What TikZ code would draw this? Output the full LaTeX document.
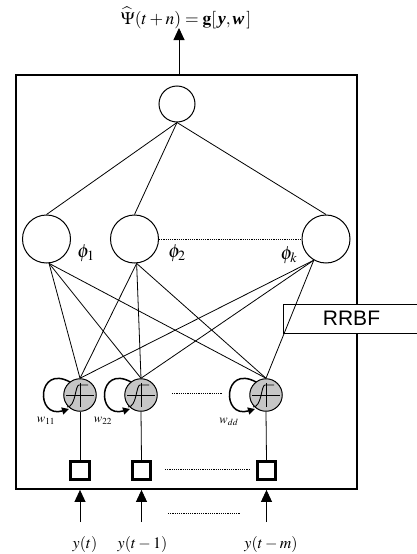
\documentclass[tikz,border=0pt]{standalone}
\usepackage{mathptmx}
\usepackage[no-math]{fontspec}
\setmainfont{Liberation Serif}
\newfontfamily\rrbffont{Liberation Sans}
\usetikzlibrary{arrows.meta,calc}
\tikzset{
 frame/.style={draw, line width=1.8pt, minimum width=341pt, minimum height=414pt, inner sep=0pt},
 rbfc/.style={circle, draw, line width=1pt, minimum size=48pt, inner sep=0pt},
 topc/.style={circle, draw, line width=1pt, minimum size=36pt, inner sep=0pt},
 sig/.style={circle, draw, line width=1pt, fill=gray!45, minimum size=32.5pt, inner sep=0pt},
 delay/.style={draw, line width=2.6pt, minimum size=18.5pt, inner sep=0pt},
 conn/.style={line width=0.8pt},
 bigarrow/.style={line width=0.9pt, -{Triangle[length=12pt,width=11pt]}},
 looparrow/.style={line width=1.5pt, -{Triangle[length=7pt,width=7pt]}},
 dotline/.style={line width=0.8pt, dash pattern=on 1.2pt off 1pt},
 lab/.style={font=\fontsize{16}{18}\selectfont, inner sep=0pt},
 outl/.style={font=\fontsize{17.5}{20}\selectfont, inner sep=0pt},
 phil/.style={font=\fontsize{19}{21}\selectfont, inner sep=0pt},
 wl/.style={font=\fontsize{12.5}{14}\selectfont, inner sep=0pt},
}
\begin{document}
\begin{tikzpicture}[x=1pt,y=-1pt]
\useasboundingbox (0,0) rectangle (416,554);
% frame
\node[frame] (box) at (186.5,282) {};
\node[draw, fill=white, line width=1pt, minimum width=137pt, minimum height=29pt, inner sep=0pt,
      font=\rrbffont\fontsize{21}{24}\selectfont] (rr) at (351.5,318.5) {RRBF};
% output
\node[outl] (f) at (186,18) {$\widehat{\Psi}(t+n)=\mathbf{g}[\,\mbox{\bfseries\itshape y},\mbox{\bfseries\itshape w}\,]$};
\coordinate (outtop) at (179,28);
\draw[bigarrow] (box.north -| outtop) -- (outtop);
% top neuron
\node[topc] (o) at (177,104) {};
% rbf neurons
\node[rbfc] (c1) at (46.5,239) {};
\node[rbfc] (c2) at (134.5,239) {};
\node[rbfc] (c3) at (326,239) {};
\node[phil] at (86,253) {$\phi_1$};
\node[phil] at (177,253) {$\phi_2$};
\node[phil] at (289,255) {$\phi_k$};
\draw[dotline] (c2.east) -- (c3.west);
\foreach \c in {c1,c2,c3} \draw[conn] (o.south) -- (\c.north);
% sigmoid neurons
\node[sig] (n1) at (80,395) {};
\node[sig] (n2) at (141,395) {};
\node[sig] (n3) at (266,395) {};
\foreach \n in {n1,n2,n3} {
  % recurrent loop
  \draw[looparrow] (\n.center) ++(-10,-13) .. controls +(-33,-18) and +(-34,10) .. ++(-1,27);
  % sigmoid symbol
  \draw[line width=0.9pt] (\n.center) ++(-14,0) -- ++(28,0);
  \draw[line width=0.9pt] (\n.center) ++(0,-12) -- ++(0,24);
  \draw[line width=0.9pt] (\n.center) ++(-13,12) .. controls +(9,0) and +(-4,0) .. ++(12,-22) -- ++(9,0);
}
\node[wl] at (46,421) {$w_{11}$};
\node[wl] at (103,421) {$w_{22}$};
\node[wl] at (229,422) {$w_{dd}$};
\coordinate (d1a) at (172,393); \coordinate (d1b) at (222,393);
\draw[dotline] (d1a) -- (d1b);
% connections rbf -> sigmoid
\foreach \n in {n1,n2,n3} {
  \draw[conn] (c1.-84) -- (\n.north);
  \draw[conn] (c2.-85) -- (\n.north);
  \draw[conn] (c3.-120) -- (\n.north);
}
% delays
\node[delay] (s1) at (80,470.5) {};
\node[delay] (s2) at (141.5,470.5) {};
\node[delay] (s3) at (266.5,470.5) {};
\draw[conn] (n1.south) -- (s1.north);
\draw[conn] (n2.south) -- (s2.north);
\draw[conn] (n3.south) -- (s3.north);
\coordinate (d2a) at (165,469); \coordinate (d2b) at (250,469);
\draw[dotline] (d2a) -- (d2b);
% inputs
\coordinate (i1) at (80,522);
\coordinate (i2) at (141.5,522);
\coordinate (i3) at (266.5,522);
\foreach \i in {i1,i2,i3} \draw[bigarrow] (\i) -- (\i |- box.south);
\coordinate (d3a) at (168,513); \coordinate (d3b) at (240,513);
\draw[dotline] (d3a) -- (d3b);
\node[lab] (l1) at (85,544) {$y(t)$};
\node[lab] (l2) at (142.5,544) {$y(t-1)$};
\node[lab] (l3) at (271,544) {$y(t-m)$};
\end{tikzpicture}
\end{document}
